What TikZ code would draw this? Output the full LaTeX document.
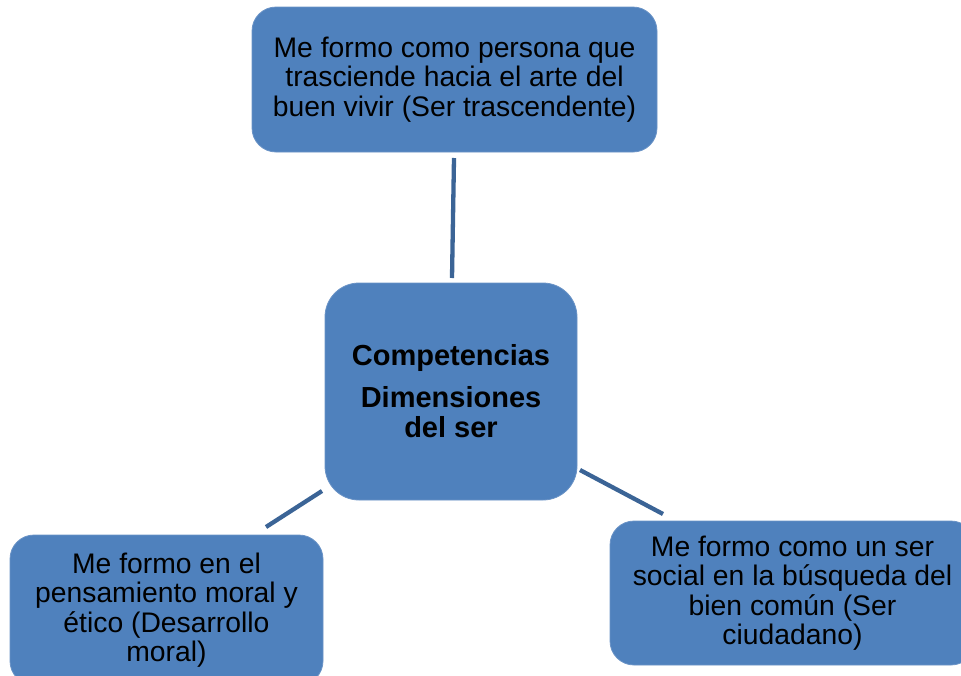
\documentclass[tikz,border=0pt]{standalone}
\usepackage{fontspec}
\setmainfont{Liberation Sans}
\definecolor{boxfill}{HTML}{4F81BD}
\definecolor{boxedge}{HTML}{6A93C6}
\definecolor{linkcol}{HTML}{3B6496}
\begin{document}
\begin{tikzpicture}[x=1pt,y=-1pt,
  blob/.style={draw=boxedge, line width=0.8pt, fill=boxfill, rounded corners=24pt,
    align=center, text=black, inner sep=0pt,
    font=\fontsize{28.3}{29.4}\selectfont},
  link/.style={draw=linkcol, line width=4.3pt}]
\useasboundingbox (0,0) rectangle (961,675);
\begin{scope}
\clip (0,0) rectangle (961,675);
\node[blob, minimum width=405pt, minimum height=145pt] (top) at (454.5,79.5)
  {Me formo como persona que\\trasciende hacia el arte del\\buen vivir (Ser trascendente)};
\node[blob, rounded corners=34pt, minimum width=252pt, minimum height=217pt,
  font=\bfseries\fontsize{29}{30}\selectfont] (center) at (451,391.5)
  {Competencias\\[12pt]Dimensiones\\del ser};
\node[blob, minimum width=313pt, minimum height=150pt] (left) at (166.5,610)
  {Me formo en el\\pensamiento moral y\\ético (Desarrollo\\moral)};
\node[blob, minimum width=365pt, minimum height=144pt] (right) at (792.5,593)
  {Me formo como un ser\\social en la búsqueda del\\bien común (Ser\\ciudadano)};
\end{scope}
\coordinate (t1) at (454,158);
\coordinate (t2) at (452,278);
\coordinate (l1) at (322,491);
\coordinate (l2) at (266,527);
\coordinate (r1) at (580,470);
\coordinate (r2) at (663,514);
\draw[link] (t1) -- (t2);
\draw[link] (l1) -- (l2);
\draw[link] (r1) -- (r2);
\end{tikzpicture}
\end{document}
